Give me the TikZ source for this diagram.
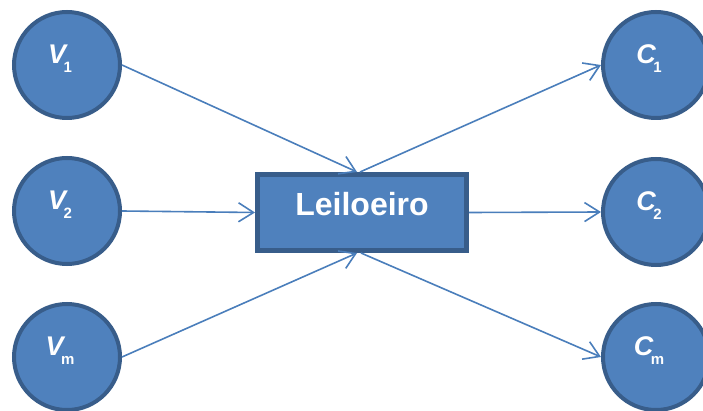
\documentclass[tikz,border=0pt]{standalone}
\usepackage{fontspec}
\setmainfont{Liberation Sans}
\usetikzlibrary{arrows.meta}

\definecolor{nodefill}{HTML}{4F81BD}
\definecolor{nodeedge}{HTML}{385D8A}
\definecolor{linkblue}{HTML}{4A7EBB}

\tikzset{
  party/.style={circle, fill=nodefill, draw=nodeedge, line width=4pt,
    minimum size=106pt, inner sep=0pt},
  auctioneer/.style={rectangle, fill=nodefill, draw=nodeedge, line width=5pt,
    minimum width=209pt, minimum height=76pt, inner sep=0pt},
  partylab/.style={inner sep=0pt, text=white, xshift=-7pt, yshift=6.5pt},
  boxlab/.style={inner sep=0pt, text=white, font=\fontsize{32}{32}\selectfont\bfseries},
  link/.style={draw=linkblue, line width=1.6pt,
    -{Straight Barb[length=15pt,width=19pt]}},
}

% letter with a lowered, upright subscript
\newcommand{\partyname}[2]{%
  {\fontsize{27}{27}\selectfont\bfseries\itshape #1}\kern-2.5pt%
  \raisebox{-9.5pt}{\fontsize{15}{15}\selectfont\bfseries #2}}

\begin{document}
\begin{tikzpicture}[x=1pt,y=-1pt]
  \useasboundingbox (0,0) rectangle (703,411);

  % sellers
  \node[party] (v1) at (67,65)  {};
  \node[party] (v2) at (67,211) {};
  \node[party] (vm) at (67,357) {};
  % buyers
  \node[party] (c1) at (656,65)  {};
  \node[party] (c2) at (656,212) {};
  \node[party] (cm) at (656,357) {};
  % auctioneer
  \node[auctioneer] (box) at (362,212.5) {};

  \node[partylab] (v1l) at (v1) {\partyname{V}{1}};
  \node[partylab] (v2l) at (v2) {\partyname{V}{2}};
  \node[partylab] (vml) at (vm) {\partyname{V}{m}};
  \node[partylab] (c1l) at (c1) {\partyname{C}{1}};
  \node[partylab] (c2l) at (c2) {\partyname{C}{2}};
  \node[partylab] (cml) at (cm) {\partyname{C}{m}};
  \node[boxlab] (boxl) at ([yshift=8pt]box.center) {Leiloeiro};

  % offers in, lots out
  \draw[link] (v1.east) -- ([xshift=-5pt]box.north);
  \draw[link] (v2.east) -- (box.west);
  \draw[link] (vm.east) -- ([xshift=-5pt]box.south);
  \draw[link] ([xshift=-2pt]box.north) -- (c1.west);
  \draw[link] (box.east) -- (c2.west);
  \draw[link] ([xshift=-1pt]box.south) -- (cm.west);
\end{tikzpicture}
\end{document}
